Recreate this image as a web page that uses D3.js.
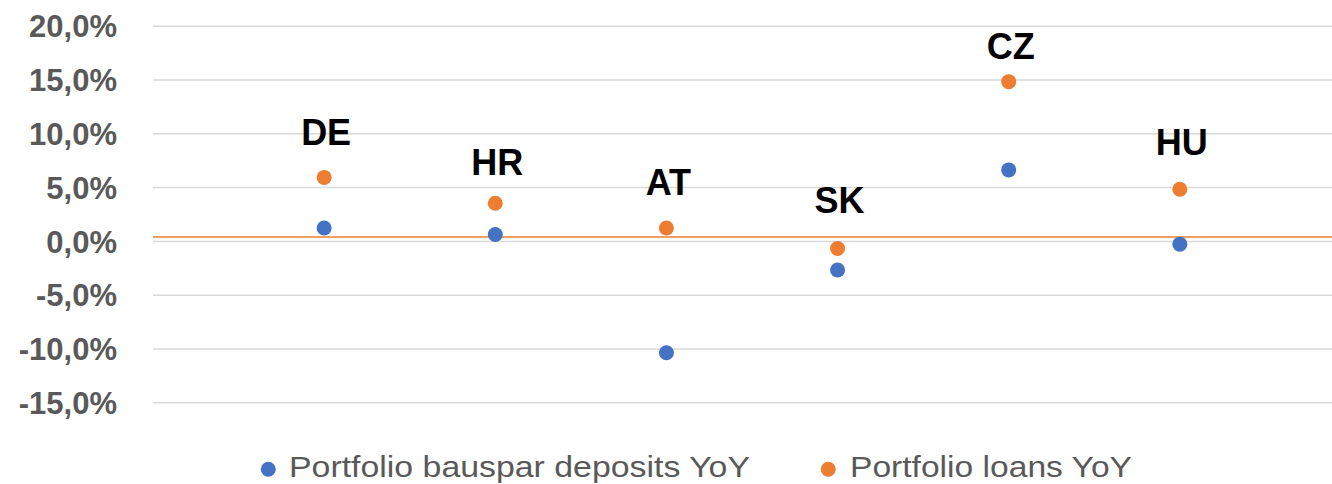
<!DOCTYPE html>
<html>
<head>
<meta charset="utf-8">
<script src="https://cdn.jsdelivr.net/npm/d3@7/dist/d3.min.js"></script>
<style>
  body { margin: 0; background: #fff; }
  svg { display: block; }
</style>
</head>
<body>
<div id="chart"></div>
<script>
// data
var countries = ['DE', 'HR', 'AT', 'SK', 'CZ', 'HU']
var depositsYoY = [1.2, 0.6, -10.4, -2.7, 6.6, -0.3]
var loansYoY = [5.9, 3.5, 1.2, -0.7, 14.8, 4.8]
var labelAt = [8.9, 6.1, 4.3, 2.6, 16.9, 8.0]   // where the country labels sit (in %)
var refLine = 0.37
var yTicks = [20, 15, 10, 5, 0, -5, -10, -15]
var seriesNames = ['Portfolio bauspar deposits YoY', 'Portfolio loans YoY']

var W = 1332, H = 484
var blue = '#4472C4', orange = '#ED7D31'

var svg = d3.select('#chart').append('svg').attr('width', W).attr('height', H)

var x = d3.scaleLinear().domain([0, 7]).range([153, 1351])
var y = d3.scaleLinear().domain([-15, 20]).range([402.3, 25.7])

// excel style: comma decimal, plain hyphen for negatives
var fmt = function(v){ return d3.format('.1f')(v).replace('.', ',').replace('\u2212', '-') + '%' }

// gridlines
var yAxis = d3.axisLeft(y).tickValues(yTicks).tickSize(-(1351 - 153)).tickFormat(fmt).tickPadding(36)
var gy = svg.append('g').attr('transform', 'translate(153,0)').call(yAxis)
gy.select('.domain').remove()
gy.selectAll('.tick line').attr('stroke', '#d9d9d9').attr('stroke-width', 1.5)
gy.selectAll('.tick text')
    .attr('fill', '#595959')
    .attr('font-family', 'Liberation Sans, Arial, sans-serif')
    .attr('font-weight', 'bold')
    .attr('font-size', '31px')
    .attr('dy', '0.36em')

// orange reference line
svg.append('line')
    .attr('x1', x(0)).attr('x2', x(7))
    .attr('y1', y(refLine)).attr('y2', y(refLine))
    .attr('stroke', orange).attr('stroke-width', 1.5)

// points
svg.selectAll('.dep').data(depositsYoY).enter().append('circle')
    .attr('class', 'dep')
    .attr('cx', function(d, i){ return x(i + 1) })
    .attr('cy', function(d){ return y(d) })
    .attr('r', 7.5)
    .attr('fill', blue)

svg.selectAll('.loan').data(loansYoY).enter().append('circle')
    .attr('class', 'loan')
    .attr('cx', function(d, i){ return x(i + 1) })
    .attr('cy', function(d){ return y(d) })
    .attr('r', 7.5)
    .attr('fill', orange)

// country labels
svg.selectAll('.lbl').data(countries).enter().append('text')
    .attr('class', 'lbl')
    .attr('x', function(d, i){ return x(i + 1) + 2 })
    .attr('y', function(d, i){ return y(labelAt[i]) })
    .attr('text-anchor', 'middle')
    .attr('font-family', 'Liberation Sans, Arial, sans-serif')
    .attr('font-weight', 'bold')
    .attr('font-size', '36px')
    .attr('fill', '#000')
    .text(function(d){ return d })

// legend
var legend = [
    {name: seriesNames[0], color: blue, cx: 268.3, tx: 289, tw: 461},
    {name: seriesNames[1], color: orange, cx: 828.3, tx: 850, tw: 282}
]
var lg = svg.selectAll('.leg').data(legend).enter().append('g').attr('class', 'leg')
lg.append('circle')
    .attr('cx', function(d){ return d.cx })
    .attr('cy', 469.3)
    .attr('r', 7.5)
    .attr('fill', function(d){ return d.color })
lg.append('text')
    .attr('x', function(d){ return d.tx })
    .attr('y', 476.7)
    .attr('font-family', 'Liberation Sans, Arial, sans-serif')
    .attr('font-size', '29px')
    .attr('fill', '#595959')
    .attr('textLength', function(d){ return d.tw })
    .attr('lengthAdjust', 'spacingAndGlyphs')
    .text(function(d){ return d.name })
</script>
</body>
</html>
